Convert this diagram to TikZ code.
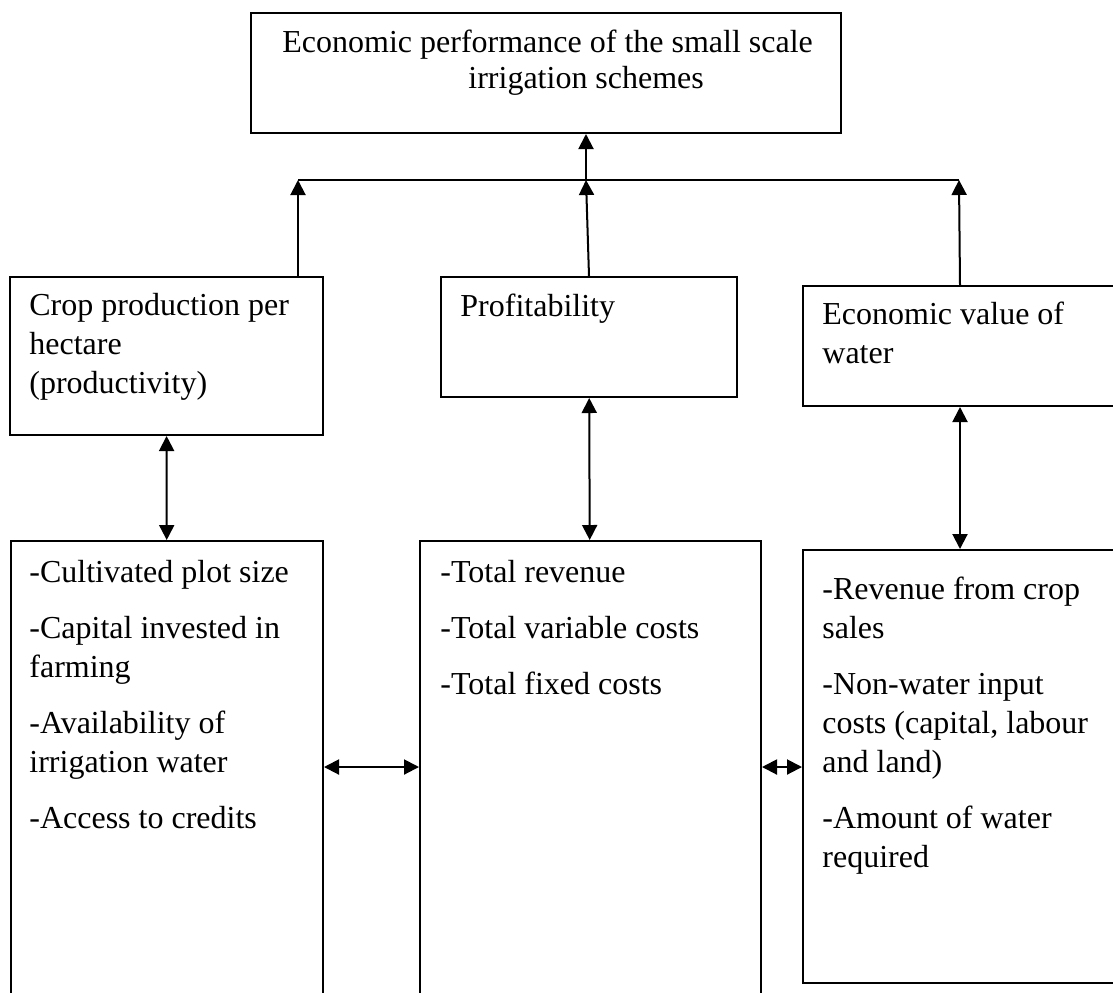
\documentclass[tikz,border=0pt]{standalone}
\usepackage{fontspec}
\setmainfont{Liberation Serif}
\usepackage{tikz}
\usetikzlibrary{arrows.meta, positioning}

\begin{document}
\begin{tikzpicture}
        [
            x=0.5pt, y=-0.5pt,
            box/.style={rectangle, draw=black, line width=1pt, anchor=north west, inner sep=0pt},
            txt/.style={anchor=north west, inner sep=0pt, align=left, font=\fontsize{16}{19.5}\selectfont},
            arr/.style={line width=1pt, -{Triangle[length=7.5pt, width=7.5pt]}},
            dbl/.style={line width=1pt, {Triangle[length=7.5pt, width=7.5pt]}-{Triangle[length=7.5pt, width=7.5pt]}},
        ]
        \useasboundingbox (0,0) rectangle (1113,992);
        \node[box, minimum width=295pt, minimum height=60pt] (top) at (250,12) {};
        \node[box, minimum width=156.5pt, minimum height=79pt] (crop) at (9,276) {};
        \node[box, minimum width=148pt, minimum height=60pt] (profit) at (440,276) {};
        \node[box, minimum width=157pt, minimum height=60pt] (econ) at (802,285) {};
        \node[box, minimum width=156pt, minimum height=230pt] (cropIn) at (10,540) {};
        \node[box, minimum width=170.5pt, minimum height=230pt] (profitIn) at (419,540) {};
        \node[box, minimum width=157pt, minimum height=216.5pt] (econIn) at (802,549) {};
        \node[txt, below right=9pt and 16pt of top.north west] (topTxt) {Economic performance of the small scale\\[-1.5pt]\hspace*{93pt}irrigation schemes};
        \node[txt, below right=8.5pt and 10pt of crop.north west] (cropTxt) {Crop production per\\hectare\\(productivity)};
        \node[txt, below right=9pt and 10pt of profit.north west] (profitTxt) {Profitability};
        \node[txt, below right=8.5pt and 10pt of econ.north west] (econTxt) {Economic value of\\water};
        \node[txt, below right=10pt and 9.5pt of cropIn.north west] (cropInTxt) {-Cultivated plot size\\[8.5pt]-Capital invested in\\farming\\[8.5pt]-Availability of\\irrigation water\\[8.5pt]-Access to credits};
        \node[txt, below right=10pt and 10.5pt of profitIn.north west] (profitInTxt) {-Total revenue\\[8.5pt]-Total variable costs\\[8.5pt]-Total fixed costs};
        \node[txt, below right=14pt and 10pt of econIn.north west] (econInTxt) {-Revenue from crop\\sales\\[8.5pt]-Non-water input\\costs (capital, labour\\and land)\\[8.5pt]-Amount of water\\required};
        \coordinate (busL) at (298,180);
        \coordinate (busM) at (586,180);
        \coordinate (busR) at (959,180);
        \draw[line width=1pt] (busL) -- (busR);
        \draw[arr] (busM) -- (busM |- top.south);
        \draw[arr] (crop.north -| busL) -- (busL);
        \draw[arr] (profit.north) -- (busM);
        \draw[arr] (econ.north) -- (busR);
        \draw[dbl] (crop) -- (cropIn);
        \draw[dbl] (profit) -- (profitIn);
        \draw[dbl] (econ) -- (econIn);
        \draw[dbl] (cropIn.east |- 0,767) -- (profitIn.west |- 0,767);
        \draw[dbl] (profitIn.east |- 0,767) -- (econIn.west |- 0,767);
\end{tikzpicture}
\end{document}
